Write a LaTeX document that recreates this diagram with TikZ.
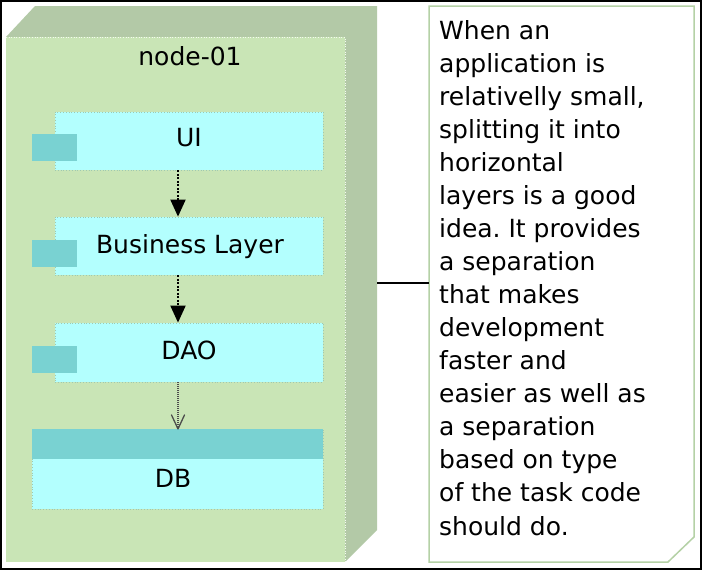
\documentclass[tikz,border=0pt]{standalone}
\usepackage{fontspec}
\setmainfont{DejaVu Sans}
\frenchspacing
\usetikzlibrary{arrows.meta}
\definecolor{frontg}{HTML}{C9E5B6}
\definecolor{sideg}{HTML}{B3C9A7}
\definecolor{compc}{HTML}{B3FFFE}
\definecolor{tabc}{HTML}{79D2D2}
\definecolor{compb}{HTML}{9FC9B0}
\definecolor{noteb}{HTML}{B5D1A6}
\begin{document}
\begin{tikzpicture}[x=1pt,y=-1pt,
  txt/.style={font=\fontsize{25}{33}\selectfont,inner sep=0pt,anchor=base},
  comp/.style={draw=compb,dotted,line width=0.8pt,fill=compc,inner sep=0pt},
  tabbox/.style={fill=tabc,inner sep=0pt,minimum width=45pt,minimum height=27pt},
  depa/.style={line width=2pt,dash pattern=on 2pt off 1.5pt,-{Triangle[width=15pt,length=17pt]}},
  depb/.style={line width=1.2pt,draw=black!70,dash pattern=on 1pt off 1pt,-{Straight Barb[width=13pt,length=14pt,line width=1.3pt,round]}}]
\useasboundingbox (0,0) rectangle (702,570);
\fill[white] (0,0) rectangle (702,570);
\draw[line width=2pt] (1,1) rectangle (701,569);
% 3D node
\fill[sideg] (6,37) -- (35,6) -- (377,6) -- (377,530) -- (345,562) -- (345,37) -- cycle;
\node[fill=frontg,inner sep=0pt,minimum width=339pt,minimum height=525pt] (node01) at (175.5,299.5) {};
\draw[white!80!frontg,dotted,line width=0.6pt] (6,37) -- (345,37) -- (345,562);
\node[txt] (node01lbl) at (190,65) {node-01};
% components
\node[comp,minimum width=268pt,minimum height=58pt] (ui) at (189,141) {};
\node[tabbox] (uitab) at (54.5,147.5) {};
\node[txt] (uilbl) at (189,146.5) {UI};
\node[comp,minimum width=268pt,minimum height=58pt] (bl) at (189,246) {};
\node[tabbox] (bltab) at (54.5,253.5) {};
\node[txt] (bllbl) at (190,253) {Business Layer};
\node[comp,minimum width=268pt,minimum height=59pt] (dao) at (189,352.5) {};
\node[tabbox] (daotab) at (54.5,359.5) {};
\node[txt] (daolbl) at (189,359) {DAO};
\node[comp,minimum width=291pt,minimum height=80pt] (db) at (177.5,469) {};
\node[fill=tabc,inner sep=0pt,minimum width=291pt,minimum height=30pt] (dbband) at (177.5,444) {};
\node[txt] (dblbl) at (173,487) {DB};
% dependencies
\coordinate (ax) at (178,0);
\draw[depa] (ui.south -| ax) -- (bl.north -| ax);
\draw[depa] (bl.south -| ax) -- (dao.north -| ax);
\draw[depb] (dao.south -| ax) -- ([yshift=-1pt]db.north -| ax);
% note
\draw[noteb,line width=1.5pt,fill=white] (429,6) -- (694,6) -- (694,537) -- (668,562) -- (429,562) -- cycle;
\coordinate (noteleft) at (429,283);
\coordinate (nodeside) at (377,283);
\draw[line width=2pt] (nodeside) -- (noteleft);
\foreach \t [count=\i] in {When an,application is,{relativelly small,},splitting it into,horizontal,layers is a good,idea. It provides,a separation,that makes,development,faster and,easier as well as,a separation,based on type,of the task code,should do.}{
  \node[txt,anchor=base west] (line\i) at (439,{39+33.07*(\i-1)}) {\t};
}
\end{tikzpicture}
\end{document}
